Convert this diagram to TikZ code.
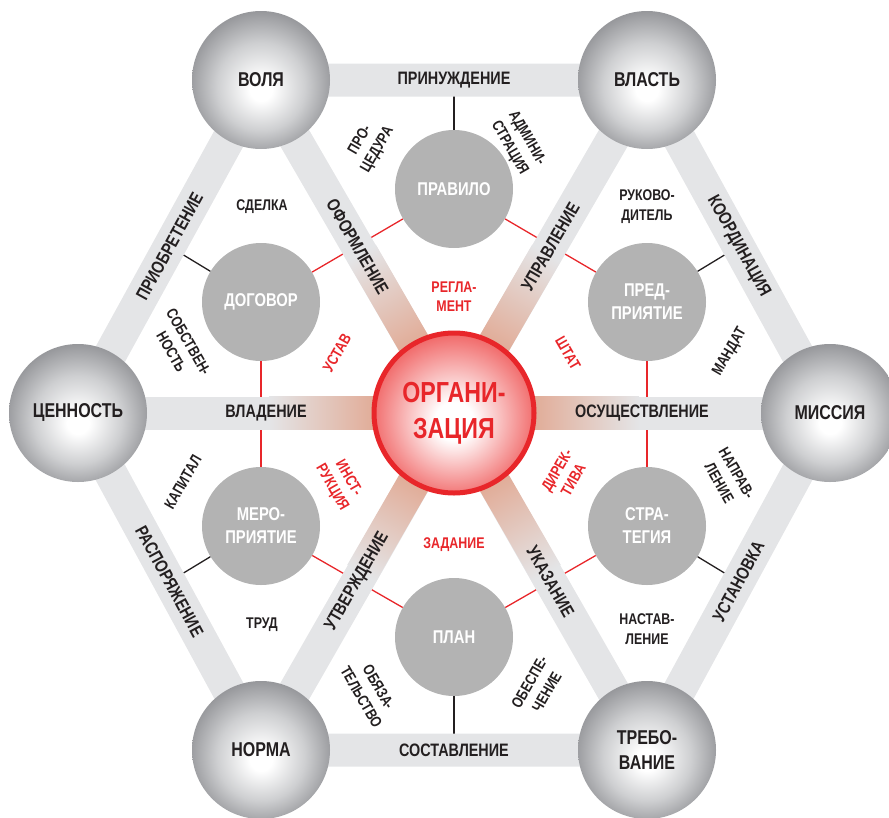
\documentclass[tikz,border=0pt]{standalone}
\usepackage{fontspec}
\setmainfont{Liberation Sans}[FakeStretch=0.8]
\usetikzlibrary{calc}

\definecolor{bandgrey}{RGB}{228,229,231}
\definecolor{spokered}{RGB}{225,168,146}
\definecolor{innergrey}{RGB}{179,179,179}
\definecolor{orgred}{RGB}{232,38,42}
\definecolor{orgpink}{RGB}{240,96,96}
\definecolor{inkdark}{RGB}{35,31,32}
\definecolor{rimgrey}{RGB}{136,137,141}
\definecolor{spheremid}{RGB}{206,207,209}

\pgfdeclareradialshading{sphereshade}{\pgfpoint{0bp}{-4bp}}{%
  color(0bp)=(white); color(4bp)=(white); color(16bp)=(spheremid);
  color(29bp)=(rimgrey); color(40bp)=(rimgrey)}
\pgfdeclareradialshading{orgshade}{\pgfpoint{0bp}{-3bp}}{%
  color(0bp)=(white); color(6bp)=(white); color(27bp)=(orgpink);
  color(40bp)=(orgpink)}

\tikzset{
  ball/.style={circle, minimum size=138pt, inner sep=0pt, shade, shading=sphereshade,
    text=inkdark, align=center, font=\fontsize{20}{25}\selectfont\bfseries},
  inner disc/.style={circle, minimum size=118pt, inner sep=0pt, fill=innergrey,
    text=white, align=center, font=\fontsize{18.5}{23}\selectfont\bfseries},
  org disc/.style={circle, minimum size=160pt, inner sep=0pt, shade, shading=orgshade,
    draw=orgred, line width=5pt, text=orgred, align=center,
    font=\fontsize{29}{36}\selectfont\bfseries},
  band/.style={line width=33pt, bandgrey},
  band label/.style={text=inkdark, font=\fontsize{18}{21}\selectfont\bfseries},
  area label/.style={text=inkdark, align=center, font=\fontsize{15.5}{20}\selectfont\bfseries},
  red label/.style={area label, text=orgred, font=\fontsize{15.5}{19}\selectfont\bfseries},
  hex link/.style={line width=1.3pt, inkdark},
  red link/.style={line width=1.3pt, orgred},
}

\begin{document}
\begin{tikzpicture}[x=1pt, y=-1pt]
  \useasboundingbox (0,0) rectangle (889,817);
  \clip (0,0) rectangle (889,817);

  % corners of the big hexagon and the centre
  \coordinate (volya) at (261,80);
  \coordinate (vlast) at (647,80);
  \coordinate (tsennost) at (78,413);
  \coordinate (missiya) at (830,413);
  \coordinate (norma) at (261,750);
  \coordinate (trebovanie) at (647,750);
  \coordinate (org) at (454,413);

  % grey discs of the inner ring
  \node[inner disc] (pravilo) at (454,189) {ПРАВИЛО};
  \node[inner disc] (dogovor) at (261,302) {ДОГОВОР};
  \node[inner disc] (predpr) at (647,302) {ПРЕД-\\ПРИЯТИЕ};
  \node[inner disc] (meropr) at (261,526) {МЕРО-\\ПРИЯТИЕ};
  \node[inner disc] (strateg) at (647,526) {СТРА-\\ТЕГИЯ};
  \node[inner disc] (plan) at (454,637) {ПЛАН};

  % red ring and black ties to the outer edges
  \foreach \a/\b in {pravilo/predpr, predpr/strateg, strateg/plan,
                     plan/meropr, meropr/dogovor, dogovor/pravilo}
    \draw[red link] (\a) -- (\b);
  \draw[hex link] (pravilo) -- ($(volya)!.5!(vlast)$);
  \draw[hex link] (predpr) -- ($(vlast)!.5!(missiya)$);
  \draw[hex link] (strateg) -- ($(missiya)!.5!(trebovanie)$);
  \draw[hex link] (plan) -- ($(trebovanie)!.5!(norma)$);
  \draw[hex link] (meropr) -- ($(norma)!.5!(tsennost)$);
  \draw[hex link] (dogovor) -- ($(tsennost)!.5!(volya)$);

  % outer bands and spokes
  \draw[band] (volya) -- (vlast) -- (missiya) -- (trebovanie) -- (norma) -- (tsennost) -- cycle;
  \foreach \p in {volya, vlast, tsennost, missiya, norma, trebovanie}
    \draw[band] (org) -- (\p);

  % reddish tint of the spokes near the centre
  \foreach \ang in {120, 60, 180, 0, -120, -60} {
    \begin{scope}[transform canvas={shift={(454,413)}, rotate=\ang}]
      \shade[left color=spokered, right color=bandgrey] (72,-16.5) rectangle (185,16.5);
    \end{scope}
  }

  % spheres
  \node[ball] (volya ball) at (volya) {ВОЛЯ};
  \node[ball] (vlast ball) at (vlast) {ВЛАСТЬ};
  \node[ball] (tsennost ball) at (tsennost) {ЦЕННОСТЬ};
  \node[ball] (missiya ball) at (missiya) {МИССИЯ};
  \node[ball] (norma ball) at (norma) {НОРМА};
  \node[ball] (trebovanie ball) at (trebovanie) {ТРЕБО-\\ВАНИЕ};
  \node[org disc] (org disc) at (org) {ОРГАНИ-\\ЗАЦИЯ};

  % band labels
  \path (volya) -- (vlast) node[midway, band label] (prinuzhd) {ПРИНУЖДЕНИЕ};
  \path (vlast) -- (missiya) node[midway, sloped, band label] (koord) {КООРДИНАЦИЯ};
  \path (missiya) -- (trebovanie) node[midway, sloped, band label] (ustanovka) {УСТАНОВКА};
  \path (norma) -- (trebovanie) node[midway, band label] (sostavl) {СОСТАВЛЕНИЕ};
  \path (tsennost) -- (norma) node[midway, sloped, band label] (rasporyazh) {РАСПОРЯЖЕНИЕ};
  \path (tsennost) -- (volya) node[midway, sloped, band label] (priobret) {ПРИОБРЕТЕНИЕ};
  \path (volya) -- (org) node[midway, sloped, band label] (oforml) {ОФОРМЛЕНИЕ};
  \path (org) -- (vlast) node[midway, sloped, band label] (upravl) {УПРАВЛЕНИЕ};
  \path (tsennost) -- (org) node[midway, band label] (vladenie) {ВЛАДЕНИЕ};
  \path (org) -- (missiya) node[midway, band label] (osushch) {ОСУЩЕСТВЛЕНИЕ};
  \path (norma) -- (org) node[midway, sloped, band label] (utverzhd) {УТВЕРЖДЕНИЕ};
  \path (org) -- (trebovanie) node[midway, sloped, band label] (ukazanie) {УКАЗАНИЕ};

  % black words in the triangles
  \node[area label, rotate=60] (protsedura) at (369,145) {ПРО-\\ЦЕДУРА};
  \node[area label, rotate=-60] (administr) at (518,143) {АДМИНИ-\\СТРАЦИЯ};
  \node[area label] (sdelka) at (262,207) {СДЕЛКА};
  \node[area label] (rukovod) at (647,207) {РУКОВО-\\ДИТЕЛЬ};
  \node[area label, rotate=-60] (sobstv) at (180,347) {СОБСТВЕН-\\НОСТЬ};
  \node[area label, rotate=60] (mandat) at (730,352) {МАНДАТ};
  \node[area label, rotate=60] (kapital) at (183,482) {КАПИТАЛ};
  \node[area label, rotate=-60] (napravl) at (728,478) {НАПРАВ-\\ЛЕНИЕ};
  \node[area label] (trud) at (262,625) {ТРУД};
  \node[area label] (nastavl) at (647,629) {НАСТАВ-\\ЛЕНИЕ};
  \node[area label, rotate=-60] (obyazat) at (370,692) {ОБЯЗА-\\ТЕЛЬСТВО};
  \node[area label, rotate=60] (obespech) at (538,687) {ОБЕСПЕ-\\ЧЕНИЕ};

  % red words round the centre
  \node[red label] (reglament) at (454,297) {РЕГЛА-\\МЕНТ};
  \node[red label, rotate=60] (ustav) at (337,353) {УСТАВ};
  \node[red label, rotate=-60] (shtat) at (568,353) {ШТАТ};
  \node[red label, rotate=-60] (instrukt) at (340,483) {ИНСТ-\\РУКЦИЯ};
  \node[red label, rotate=60] (direktiva) at (565,475) {ДИРЕК-\\ТИВА};
  \node[red label] (zadanie) at (454,545) {ЗАДАНИЕ};
\end{tikzpicture}
\end{document}
